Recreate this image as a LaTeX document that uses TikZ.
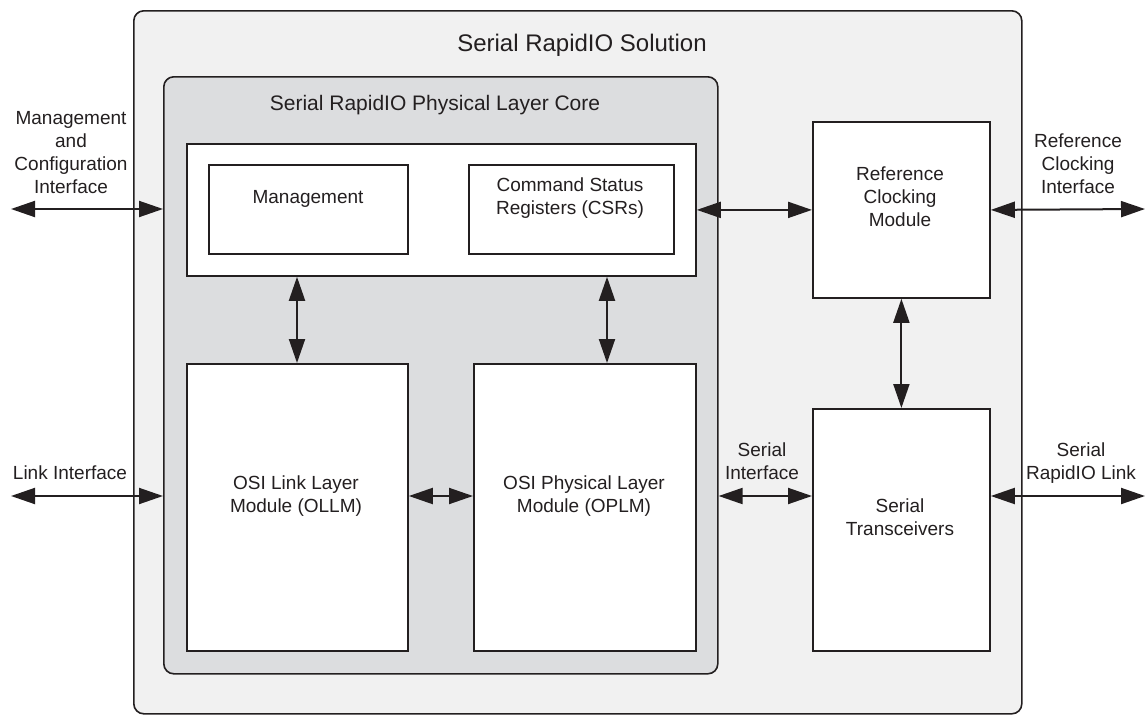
\documentclass[tikz,border=0pt]{standalone}
\usepackage{fontspec}
\setmainfont{Liberation Sans}
\usetikzlibrary{arrows.meta}
\definecolor{ink}{HTML}{231F20}
\definecolor{outerfill}{HTML}{F1F1F1}
\definecolor{corefill}{HTML}{DCDDDF}
\begin{document}
\begin{tikzpicture}[x=1pt,y=-1pt,
  frame/.style={draw=ink, line width=1.6pt, rounded corners=10pt, inner sep=0pt, anchor=north west},
  box/.style={draw=ink, line width=1.8pt, fill=white, inner sep=0pt, anchor=north west},
  txt/.style={font=\fontsize{19}{23}\selectfont, text=ink, align=center, inner sep=0pt},
  bi/.style={draw=ink, line width=2pt, {Triangle[length=24pt,width=16pt]}-{Triangle[length=24pt,width=16pt]}}]
\useasboundingbox (0,0) rectangle (1146,715);
% containers
\node[frame, fill=outerfill, minimum width=888pt, minimum height=703pt] (sol) at (133,10) {};
\node[frame, fill=corefill, minimum width=554pt, minimum height=597pt] (core) at (163,76) {};
\node[txt, font=\fontsize{24}{28}\selectfont, anchor=base] (soltitle) at (582,51) {Serial RapidIO Solution};
\node[txt, font=\fontsize{21}{25}\selectfont, anchor=base] (coretitle) at (435,110) {Serial RapidIO Physical Layer Core};
% boxes
\node[box, minimum width=509pt, minimum height=132pt] (upper) at (186,143) {};
\node[box, minimum width=199pt, minimum height=89pt] (mgmt) at (208,164) {};
\node[box, minimum width=205pt, minimum height=89pt] (csr) at (468,164) {};
\node[box, minimum width=221pt, minimum height=287pt] (ollm) at (186,363) {};
\node[box, minimum width=222pt, minimum height=287pt] (oplm) at (473,363) {};
\node[box, minimum width=177pt, minimum height=176pt] (refclk) at (812,121) {};
\node[box, minimum width=177pt, minimum height=242pt] (xcvr) at (812,408) {};
% box texts
\node[txt, anchor=base] (mgmtT) at (308,203) {Management};
\node[txt] (csrT) at (570,197.9) {\strut Command Status\\\strut Registers (CSRs)};
\node[txt] (ollmT) at (296,496.4) {\strut OSI Link Layer\\\strut Module (OLLM)};
\node[txt] (oplmT) at (584,496.4) {\strut OSI Physical Layer\\\strut Module (OPLM)};
\node[txt] (refclkT) at (900,198.4) {\strut Reference\\\strut Clocking\\\strut Module};
\node[txt] (xcvrT) at (900,519.4) {\strut Serial\\\strut Transceivers};
% outside labels
\node[txt] (mgL) at (71,153.9) {\strut Management\\\strut and\\\strut Configuration\\\strut Interface};
\node[txt, anchor=base] (lkLT) at (70,479) {Link Interface};
\node[txt] (rcLT) at (1078,165.4) {\strut Reference\\\strut Clocking\\\strut Interface};
\node[txt] (siLT) at (762,462.9) {\strut Serial\\\strut Interface};
\node[txt] (srLT) at (1081,462.9) {\strut Serial\\\strut RapidIO Link};
% connector ends
\coordinate (mgEnd) at (11,209);
\coordinate (lkEnd) at (11,496);
\coordinate (rcEnd) at (1145,209);
\coordinate (srEnd) at (1145,496);
\coordinate (vA) at (297,0);
\coordinate (vB) at (607,0);
% connectors
\draw[bi] (mgEnd) -- (mgEnd -| core.west);
\draw[bi] (lkEnd) -- (lkEnd -| core.west);
\draw[bi] (upper.east) -- (refclk.west);
\draw[bi] (refclk.east) -- (rcEnd);
\draw[bi] (refclk.south) -- (xcvr.north);
\draw[bi] (upper.south -| vA) -- (ollm.north -| vA);
\draw[bi] (upper.south -| vB) -- (oplm.north -| vB);
\draw[bi] (ollm.east |- lkEnd) -- (oplm.west |- lkEnd);
\draw[bi] (core.east |- lkEnd) -- (xcvr.west |- lkEnd);
\draw[bi] (xcvr.east |- lkEnd) -- (srEnd);
\end{tikzpicture}
\end{document}
